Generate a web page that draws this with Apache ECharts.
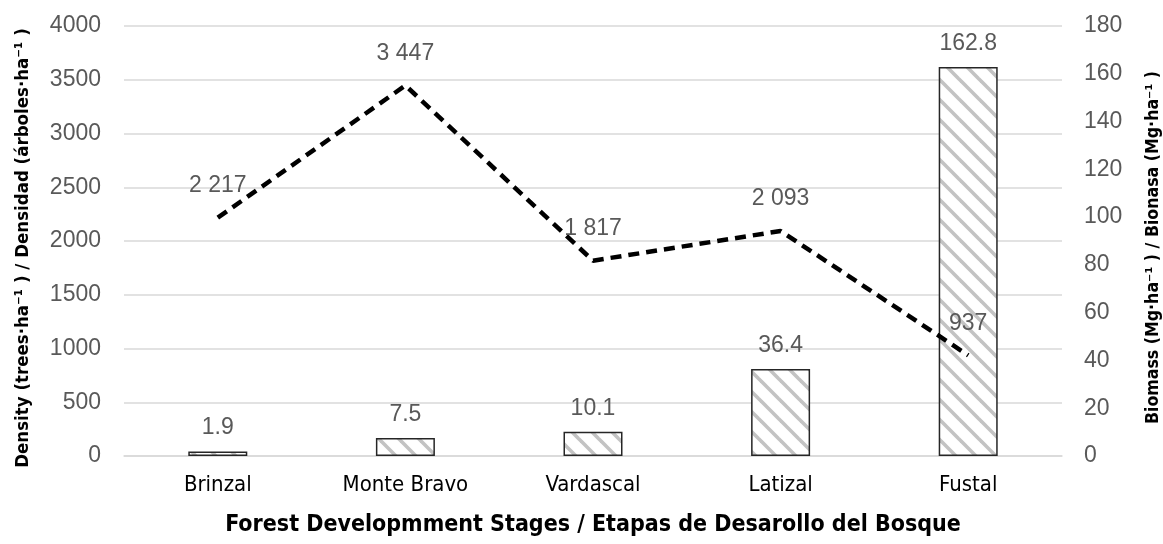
<!DOCTYPE html>
<html>
<head>
<meta charset="utf-8">
<script src="https://cdn.jsdelivr.net/npm/echarts@6/dist/echarts.min.js"></script>
<style>
html,body{margin:0;padding:0;background:#fff;}
#chart{width:1163px;height:544px;}
</style>
</head>
<body>
<div id="chart"></div>
<script>
// Data
const categories = ['Brinzal', 'Monte Bravo', 'Vardascal', 'Latizal', 'Fustal'];
const densityValues = [2217, 3447, 1817, 2093, 937];   // trees·ha-1 (left axis)
const biomassValues = [1.9, 7.5, 10.1, 36.4, 162.8];   // Mg·ha-1 (right axis)
const leftAxisTitle = 'Density (trees·ha\u207B\u00B9 ) / Densidad (árboles·ha\u207B\u00B9 )';
const rightAxisTitle = 'Biomass (Mg·ha\u207B\u00B9 ) / Bionasa (Mg·ha\u207B\u00B9 )';
const xAxisTitle = 'Forest Developmment Stages / Etapas de Desarollo del Bosque';

// hatch pattern
const pc = document.createElement('canvas');
pc.width = 20; pc.height = 20;
const g = pc.getContext('2d');
g.fillStyle = '#ffffff';
g.fillRect(0, 0, 20, 20);
g.strokeStyle = '#c3c3c3';
g.lineWidth = 3.6;
for (let k = -20; k <= 20; k += 20) {
  g.beginPath();
  g.moveTo(-2, k - 2);
  g.lineTo(22, k + 22);
  g.stroke();
}

function fmtThousands(v) {
  return String(v).replace(/\B(?=(\d{3})+(?!\d))/g, ' ');
}

const titleFont = '"DejaVu Sans Condensed", sans-serif';
const numFont = '"Liberation Sans", Arial, sans-serif';
const chart = echarts.init(document.getElementById('chart'));
chart.setOption({
  animation: false,
  backgroundColor: '#ffffff',
  grid: { left: 124, right: 101, top: 26, bottom: 88, containLabel: false, outerBoundsMode: 'none' },
  xAxis: {
    type: 'category',
    data: categories,
    axisLine: { show: true, lineStyle: { color: '#d9d9d9', width: 1.5 } },
    axisTick: { show: false },
    axisLabel: { color: '#000000', fontFamily: titleFont, fontSize: 22, margin: 18 },
    name: xAxisTitle,
    nameLocation: 'middle',
    nameGap: 58,
    nameTextStyle: { color: '#000000', fontFamily: titleFont, fontWeight: 'bold', fontSize: 23 }
  },
  yAxis: [
    {
      type: 'value',
      min: 0, max: 4000, interval: 500,
      axisLine: { show: false },
      axisTick: { show: false },
      splitLine: { lineStyle: { color: '#d9d9d9', width: 1.5 } },
      axisLabel: { color: '#595959', fontFamily: numFont, fontSize: 23, margin: 23, formatter: v => String(v) },
      name: leftAxisTitle,
      nameLocation: 'middle',
      nameRotate: 90,
      nameGap: 91,
      nameTextStyle: { color: '#000000', fontFamily: titleFont, fontWeight: 'bold', fontSize: 18.5, padding: [0, 14, 0, 0] }
    },
    {
      type: 'value',
      min: 0, max: 180, interval: 20,
      axisLine: { show: false },
      axisTick: { show: false },
      splitLine: { show: false },
      axisLabel: { color: '#595959', fontFamily: numFont, fontSize: 23, margin: 22, formatter: v => String(v) },
      name: rightAxisTitle,
      nameLocation: 'middle',
      nameRotate: 90,
      nameGap: 82,
      nameTextStyle: { color: '#000000', fontFamily: titleFont, fontWeight: 'bold', fontSize: 17.6, padding: [0, 13, 0, 0] }
    }
  ],
  series: [
    {
      type: 'bar',
      yAxisIndex: 1,
      data: biomassValues,
      barWidth: 59,
      itemStyle: { color: { image: pc, repeat: 'repeat' }, borderColor: '#262626', borderWidth: 1.5 },
      label: { show: true, position: 'top', distance: 12, color: '#595959', fontFamily: numFont, fontSize: 23 },
      z: 2
    },
    {
      type: 'line',
      yAxisIndex: 0,
      data: densityValues,
      symbol: 'circle',
      symbolSize: 1,
      showSymbol: true,
      itemStyle: { color: 'rgba(0,0,0,0)' },
      lineStyle: { color: '#000000', width: 4.5, type: [11, 7] },
      label: { show: true, position: 'top', distance: 20, color: '#595959', fontFamily: numFont, fontSize: 23,
        formatter: p => fmtThousands(p.value) },
      labelLayout: { hideOverlap: false },
      z: 5
    }
  ]
});
</script>
</body>
</html>
